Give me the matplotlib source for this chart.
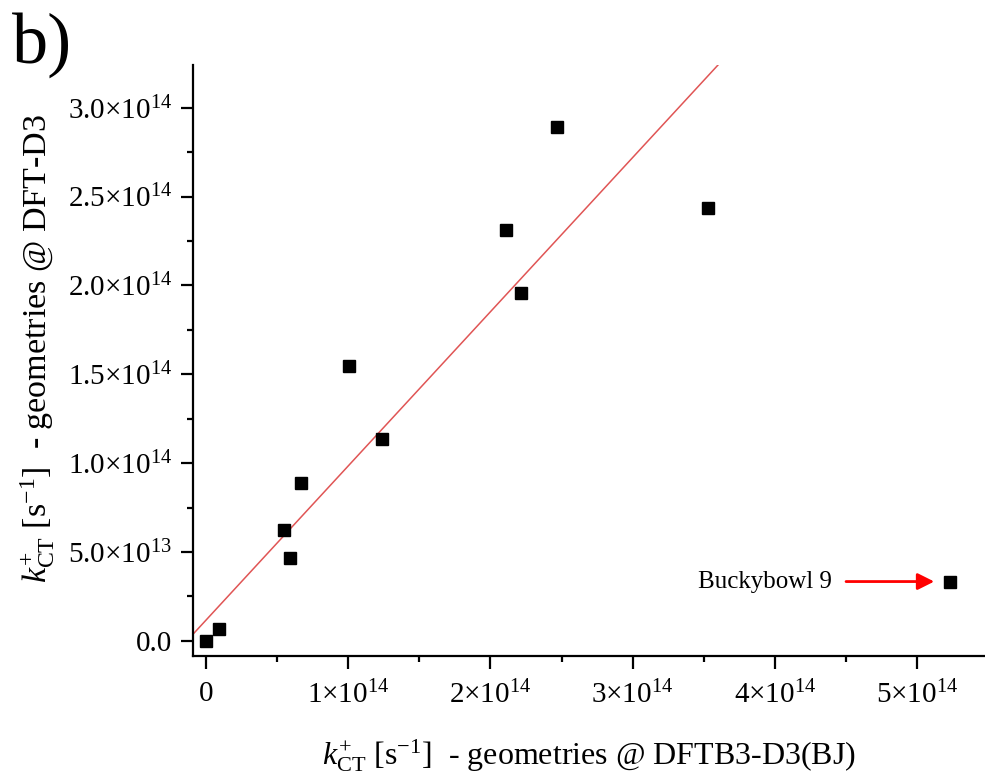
import numpy as np
import matplotlib
matplotlib.use('Agg')
import matplotlib.pyplot as plt
from matplotlib.ticker import FixedLocator, MultipleLocator

plt.rcParams['font.family'] = ['Liberation Serif', 'DejaVu Serif']
plt.rcParams['mathtext.fontset'] = 'custom'
plt.rcParams['mathtext.rm'] = 'Liberation Serif'
plt.rcParams['mathtext.it'] = 'Liberation Serif:italic'

# k_CT+ values (s^-1)
k_dftb = [0.0, 0.094e14, 0.546e14, 0.593e14, 0.668e14, 1.005e14, 1.237e14,
          2.108e14, 2.214e14, 2.467e14, 3.528e14, 5.228e14]
k_dft = [0.0, 0.068e14, 0.626e14, 0.467e14, 0.889e14, 1.548e14, 1.137e14,
         2.313e14, 1.958e14, 2.893e14, 2.433e14, 0.334e14]

# linear fit shown in the figure
fit_slope = 0.8675
fit_intercept = 0.117e14

x_ticks = [0, 1e14, 2e14, 3e14, 4e14, 5e14]
x_labels = ['0', '1×10$^{14}$', '2×10$^{14}$', '3×10$^{14}$', '4×10$^{14}$', '5×10$^{14}$']
y_ticks = [0, 0.5e14, 1.0e14, 1.5e14, 2.0e14, 2.5e14, 3.0e14]
y_labels = ['0.0', '5.0×10$^{13}$', '1.0×10$^{14}$', '1.5×10$^{14}$',
            '2.0×10$^{14}$', '2.5×10$^{14}$', '3.0×10$^{14}$']

fig = plt.figure(figsize=(9.85, 7.78), dpi=100)
ax = fig.add_axes([0.196, 0.157, 0.803, 0.7595])

xmin, xmax = -0.091e14, 5.47e14
ymin, ymax = -0.084e14, 3.24e14

xl = np.array([xmin, xmax])
ax.plot(xl, fit_slope * xl + fit_intercept, color='#e05555', lw=1.1, zorder=2)
ax.plot(k_dftb, k_dft, 's', color='black', markersize=8.8, zorder=3)

ax.set_xlim(xmin, xmax)
ax.set_ylim(ymin, ymax)

ax.xaxis.set_major_locator(FixedLocator(x_ticks))
ax.set_xticklabels(x_labels)
ax.xaxis.set_minor_locator(MultipleLocator(0.5e14))
ax.yaxis.set_major_locator(FixedLocator(y_ticks))
ax.set_yticklabels(y_labels)
ax.yaxis.set_minor_locator(MultipleLocator(0.25e14))

for s in ['top', 'right']:
    ax.spines[s].set_visible(False)
for s in ['left', 'bottom']:
    ax.spines[s].set_linewidth(1.6)

ax.tick_params(which='major', direction='out', length=9, width=1.6, labelsize=21)
ax.tick_params(axis='x', which='major', pad=9)
ax.tick_params(axis='y', which='major', pad=6)
ax.tick_params(which='minor', direction='out', length=4.5, width=1.6)

ax.set_xlabel(r'$k_{\mathrm{CT}}^{+}$ [s$^{\mathrm{-1}}$]  - geometries @ DFTB3-D3(BJ)',
              fontsize=23, labelpad=20)
ax.set_ylabel(r'$k_{\mathrm{CT}}^{+}$ [s$^{\mathrm{-1}}$]  - geometries @ DFT-D3',
              fontsize=24.5)
ax.yaxis.set_label_coords(-0.172, 0.52)

ax.annotate('', xy=(5.12e14, 0.334e14), xytext=(4.5e14, 0.334e14),
            arrowprops=dict(arrowstyle='-|>', color='red', lw=2,
                            mutation_scale=25, shrinkA=0, shrinkB=0))
ax.text(4.4e14, 0.334e14, 'Buckybowl 9', fontsize=18, ha='right', va='center')

fig.text(0.012, 0.985, 'b)', fontsize=52, ha='left', va='top')

fig.savefig('out.png', dpi=100)
